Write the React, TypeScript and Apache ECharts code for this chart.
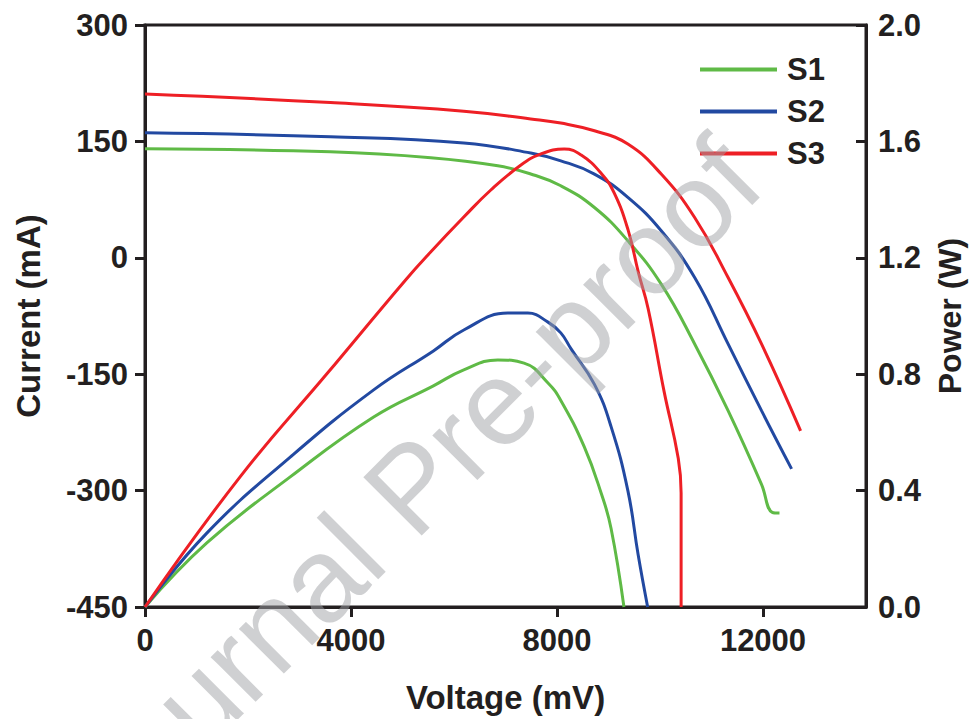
import { useEffect, useRef } from "react";
import * as echarts from "echarts";

// ---- Data ----
const seriesNames = ["S1", "S2", "S3"];
const xTickValues = [0, 4000, 8000, 12000];

// Current (mA) vs Voltage (mV)
const s1IvV = [0, 3600, 5550, 6850, 7490, 8074, 8727, 9376, 10024, 10673, 11322, 11971, 12180, 12320];
const s1IvI = [140.5, 136.6, 129, 118.6, 108, 92.8, 64.8, 21.9, -34, -111, -197, -292, -328, -329];

const s2IvV = [0, 3600, 6190, 7490, 8074, 8727, 9376, 10024, 10673, 11322, 11971, 12555];
const s2IvI = [161, 156, 148, 135, 125, 107.9, 77.8, 34.8, -25.4, -111, -197, -272];

const s3IvV = [0, 3600, 6190, 7490, 8074, 8727, 9376, 10024, 10673, 11322, 11971, 12730];
const s3IvI = [211, 200, 189, 179, 173.6, 163.7, 146.5, 107.9, 52, -25.4, -111, -223];

// Power (W) vs Voltage (mV)
const s1PV = [0, 1200, 2820, 4440, 5600, 6190, 6850, 7360, 7825, 8074, 8530, 8860, 9050, 9300];
const s1PW = [0, 0.22, 0.447, 0.653, 0.76, 0.815, 0.849, 0.838, 0.77, 0.71, 0.55, 0.39, 0.27, 0];

const s2PV = [0, 1200, 2820, 4440, 5600, 6190, 7045, 7435, 7825, 8074, 8270, 8727, 9050, 9376, 9575, 9760];
const s2PW = [0, 0.254, 0.515, 0.746, 0.88, 0.952, 1.01, 1.01, 0.979, 0.942, 0.888, 0.765, 0.62, 0.4, 0.18, 0];

const s3PV = [0, 1850, 3540, 5060, 5547, 6190, 6715, 7300, 7690, 8140, 8470, 8860, 9110, 9380, 9580, 9770, 10080, 10355, 10410, 10410];
const s3PW = [0, 0.448, 0.803, 1.124, 1.22, 1.34, 1.433, 1.519, 1.557, 1.574, 1.553, 1.49, 1.423, 1.296, 1.15, 1.025, 0.74, 0.51, 0.392, 0];

const colors = ["#5fba46", "#2249a1", "#ee1f25"];
const ink = "#231f20";
const font = "'Liberation Sans', Arial, sans-serif";

const zip = (xs: number[], ys: number[]) => xs.map((x, i) => [x, ys[i]]);

export default function App() {
  const ref = useRef<HTMLDivElement>(null);

  useEffect(() => {
    if (!ref.current) return;
    const chart = echarts.init(ref.current, undefined, { renderer: "svg" });

    const ivData = [zip(s1IvV, s1IvI), zip(s2IvV, s2IvI), zip(s3IvV, s3IvI)];
    const pData = [zip(s1PV, s1PW), zip(s2PV, s2PW), zip(s3PV, s3PW)];

    const lineSeries = (name: string, idx: number, data: number[][], yIdx: number) => ({
      type: "line",
      name,
      data,
      yAxisIndex: yIdx,
      showSymbol: false,
      symbol: "none",
      smooth: 0.45,
      lineStyle: { color: colors[idx], width: 3 },
      itemStyle: { color: colors[idx] },
      z: 3,
    });

    const axisLabelStyle = {
      color: ink,
      fontFamily: font,
      fontWeight: "bold",
      fontSize: 31,
    };
    const nameStyle = {
      color: ink,
      fontFamily: font,
      fontWeight: "bold",
      fontSize: 33,
    };

    chart.setOption({
      animation: false,
      backgroundColor: "#ffffff",
      grid: {
        left: 145,
        right: 103,
        top: 25,
        bottom: 112,
        containLabel: false,
        outerBoundsMode: "none",
        show: true,
        borderColor: ink,
        borderWidth: 3,
      },
      legend: {
        data: seriesNames,
        orient: "vertical",
        left: 695,
        top: 49,
        itemWidth: 77,
        itemHeight: 4,
        itemGap: 11,
        icon: "rect",
        textStyle: { ...axisLabelStyle, padding: [0, 0, 0, 5] },
      },
      xAxis: {
        type: "value",
        min: 0,
        max: 14000,
        interval: 4000,
        name: "Voltage (mV)",
        nameLocation: "middle",
        nameGap: 74,
        nameTextStyle: nameStyle,
        splitLine: { show: false },
        axisLine: { onZero: false, lineStyle: { color: ink, width: 3 } },
        axisTick: { show: true, length: 10, lineStyle: { color: ink, width: 3 }, customValues: xTickValues },
        axisLabel: { ...axisLabelStyle, margin: 18, customValues: xTickValues, formatter: (v: number) => String(v) },
      },
      yAxis: [
        {
          type: "value",
          min: -450,
          max: 300,
          interval: 150,
          name: "Current (mA)",
          nameLocation: "middle",
          nameRotate: 90,
          nameGap: 100,
          nameTextStyle: nameStyle,
          splitLine: { show: false },
          axisLine: { show: true, onZero: false, lineStyle: { color: ink, width: 3 } },
          axisTick: { show: true, length: 10, lineStyle: { color: ink, width: 3 } },
          axisLabel: { ...axisLabelStyle, margin: 17, formatter: (v: number) => String(v) },
        },
        {
          type: "value",
          position: "right",
          min: 0,
          max: 2,
          interval: 0.4,
          name: "Power (W)",
          nameLocation: "middle",
          nameRotate: 90,
          nameGap: 68,
          nameTextStyle: { ...nameStyle, fontSize: 32 },
          splitLine: { show: false },
          axisLine: { show: true, onZero: false, lineStyle: { color: ink, width: 3 } },
          axisTick: { show: true, inside: true, length: 10, lineStyle: { color: ink, width: 3 } },
          axisLabel: { ...axisLabelStyle, margin: 12, formatter: (v: number) => v.toFixed(1) },
        },
      ],
      graphic: [
        {
          type: "text",
          x: 411,
          y: 487,
          rotation: Math.PI / 4,
          z: 100,
          silent: true,
          style: {
            text: "Journal Pre-proof",
            fontFamily: font,
            fontSize: 120,
            fill: "rgba(160,162,166,0.5)",
            align: "center",
            verticalAlign: "middle",
          },
        },
      ],
      series: [
        ...seriesNames.map((n, i) => lineSeries(n, i, ivData[i], 0)),
        ...seriesNames.map((n, i) => lineSeries(n, i, pData[i], 1)),
      ],
    });

    return () => chart.dispose();
  }, []);

  return (
    <div
      ref={ref}
      style={{ position: "fixed", left: 0, top: 0, width: 969, height: 719 }}
    />
  );
}
